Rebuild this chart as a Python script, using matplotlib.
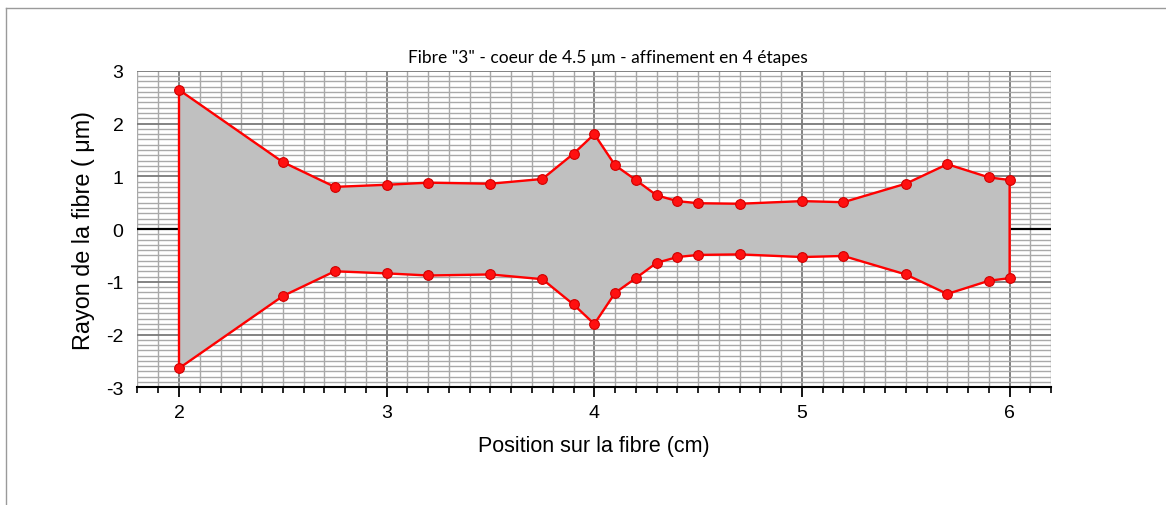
import numpy as np
import matplotlib.pyplot as plt
from matplotlib.ticker import MultipleLocator
from matplotlib.lines import Line2D

plt.rcParams['axes.unicode_minus'] = False

# Profil de la fibre : position (cm) et rayon (µm), symétrique autour de 0
position = [2.0, 2.5, 2.75, 3.0, 3.2, 3.5, 3.75, 3.9, 4.0, 4.1, 4.2,
            4.3, 4.4, 4.5, 4.7, 5.0, 5.2, 5.5, 5.7, 5.9, 6.0]
rayon = [2.64, 1.27, 0.80, 0.84, 0.88, 0.86, 0.95, 1.43, 1.80, 1.21, 0.93,
         0.64, 0.53, 0.49, 0.48, 0.53, 0.51, 0.86, 1.23, 0.98, 0.93]

x = np.array(position)
r = np.array(rayon)

# Contour fermé : bord supérieur puis bord inférieur en sens inverse
xs = np.concatenate([x, x[::-1], x[:1]])
ys = np.concatenate([r, -r[::-1], r[:1]])

fig = plt.figure(figsize=(11.66, 5.06), dpi=100)
ax = fig.add_axes([0.1179, 0.2326, 0.7836, 0.6254])

# Cadre gris en haut et à gauche
fig.add_artist(Line2D([6 / 1166, 6 / 1166], [0, 1 - 9 / 506], color='#9a9a9a', lw=1.0))
fig.add_artist(Line2D([6 / 1166, 1], [1 - 9 / 506, 1 - 9 / 506], color='#9a9a9a', lw=1.0))

ax.set_xlim(1.8, 6.2)
ax.set_ylim(-3, 3)
ax.xaxis.set_major_locator(MultipleLocator(1))
ax.xaxis.set_minor_locator(MultipleLocator(0.1))
ax.yaxis.set_major_locator(MultipleLocator(1))
ax.yaxis.set_minor_locator(MultipleLocator(0.1))

ax.set_axisbelow(True)
ax.grid(which='minor', color='#a9a9a9', lw=1.0)
ax.grid(which='major', color='#7a7a7a', lw=1.3)

ax.axhline(0, color='black', lw=1.6, zorder=1)

ax.fill(xs, ys, color='#c0c0c0', zorder=2)
ax.plot(xs, ys, color='#ff0000', lw=1.7, zorder=3)
for signe in (1, -1):
    ax.plot(x, signe * r, 'o', ms=7, mfc='#ff1010', mec='#d00000', mew=0.8, zorder=4)

for s in ('left', 'right', 'top'):
    ax.spines[s].set_visible(False)
ax.spines['bottom'].set_linewidth(1.5)

ax.tick_params(axis='x', which='major', direction='out', length=7, width=1.3,
               labelsize=14, pad=5)
ax.tick_params(axis='x', which='minor', direction='out', length=4, width=1.2)
ax.tick_params(axis='y', which='both', length=0, labelsize=14, pad=10)
for lab in ax.get_xticklabels() + ax.get_yticklabels():
    lab.set_family('Liberation Sans')

ax.set_xlabel('Position sur la fibre (cm)', fontsize=15.5, family='Liberation Sans', labelpad=10)
ax.set_ylabel('Rayon de la fibre ( μm)', fontsize=16.8, family='Liberation Sans', labelpad=8)

fig.text(608 / 1166, 1 - 58 / 506, 'Fibre "3" - coeur de 4.5 μm - affinement en 4 étapes',
         ha='center', va='center', fontsize=12.5, family='Lato')

fig.savefig('out.png', dpi=100)
